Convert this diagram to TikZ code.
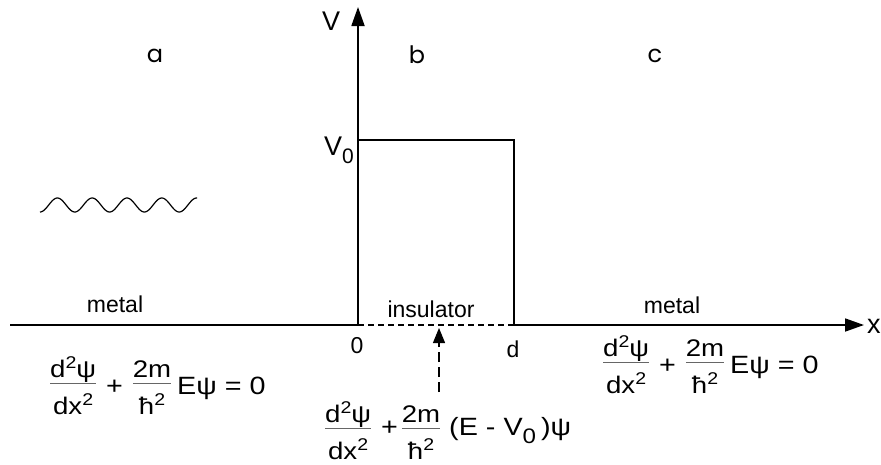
\documentclass[tikz,border=0pt]{standalone}
\usepackage{fontspec}
\setmainfont{Liberation Sans}
\newfontfamily\geo{Poppins}
\newfontfamily\eqfam[FakeStretch=1.15]{Liberation Sans}
\usetikzlibrary{arrows.meta}
\newcommand{\eqf}{\eqfam\fontsize{25}{30}\selectfont}
\newcommand{\sq}{\raisebox{9pt}{\fontsize{17}{17}\selectfont 2}}
\newcommand{\subz}{\raisebox{-8pt}{\fontsize{21}{21}\selectfont 0}}
\newdimen\frw
\newbox\frnum
\newbox\frden
\newcommand{\myfr}[3][10pt]{%
  \begingroup
  \setbox\frnum=\hbox{\fontsize{24}{28}\selectfont #2}%
  \setbox\frden=\hbox{\fontsize{24}{28}\selectfont #3}%
  \frw=\wd\frnum \ifdim\wd\frden>\frw \frw=\wd\frden \fi
  \dp\frnum=0pt \ht\frden=0pt \dp\frden=0pt
  \raise#1\hbox{\vtop{\offinterlineskip\vbox{\offinterlineskip\hbox to\frw{\hss\box\frnum\hss}\kern5pt
    \hbox{\color{black!60}\vrule width\frw height 1.1pt depth 0pt}}%
    \kern30pt\hbox to\frw{\hss\box\frden\hss}}}%
  \endgroup}
\tikzset{
  axisline/.style={line width=1.8pt},
  axisarrow/.style={line width=1.8pt,-{Triangle[length=19pt,width=13pt]}},
  barrier/.style={line width=1.7pt},
  dashseg/.style={line width=1.6pt,dash pattern=on 6pt off 4pt},
  ptr/.style={line width=1.2pt,dash pattern=on 10pt off 5pt,-{Triangle[length=15pt,width=12pt]}},
  wave/.style={line width=1.2pt},
  lab/.style={inner sep=0pt,font=\fontsize{23}{27}\selectfont},
  biglab/.style={inner sep=0pt,font=\fontsize{27}{31}\selectfont},
  reg/.style={inner sep=0pt,font=\geo\fontsize{24}{28}\selectfont},
  eqn/.style={inner sep=0pt,anchor=base west,font=\eqf},
}
\begin{document}
\begin{tikzpicture}[x=1pt,y=-1pt]
\useasboundingbox (0,0) rectangle (881,464);
% coordinates
\coordinate (Xl) at (10,325);
\coordinate (O) at (358,325);
\coordinate (D) at (514,325);
\coordinate (Xr) at (864,325);
\coordinate (Vt) at (358,7);
\coordinate (V0) at (358,140);
\coordinate (Dt) at (514,140);
\coordinate (Pb) at (439,392);
\coordinate (Pt) at (439,328);
% axes
\draw[axisline] (Xl) -- (O);
\draw[dashseg] (O) -- (D);
\draw[axisarrow] (D) -- (Xr);
\draw[axisarrow] (O) -- (Vt);
\draw[barrier] (V0) -- (Dt) -- (D);
\draw[ptr] (Pb) -- (Pt);
% wave
\draw[wave] plot[domain=40:197,samples=200,smooth] (\x,{205+7*cos(10.345*(\x-40))});
% labels
\node[reg,anchor=base] (la) at (155,62) {a};
\node[reg,anchor=base] (lb) at (417,63) {b};
\node[reg,anchor=base] (lc) at (655,62) {c};
\node[biglab,anchor=base west] (lv) at (322,30) {V};
\node[biglab,anchor=base west] (lv0) at (324,155) {V\subz};
\node[inner sep=0pt,font=\fontsize{27}{31}\selectfont,anchor=base west] (lx) at (867,333) {x};
\node[lab,anchor=base] (l0) at (357,353) {0};
\node[lab,anchor=base] (ld) at (513,357) {d};
\node[lab,anchor=base] (m1) at (115,312) {metal};
\node[lab,anchor=base] (ins) at (431,317) {insulator};
\node[lab,anchor=base] (m2) at (672,313) {metal};
% equations
\node[eqn] (eqa) at (50,394) {\myfr{d\sq ψ}{dx\sq}\hspace{10pt}+\hspace{10pt}\myfr{2m}{ħ\sq}\hspace{6pt}Eψ = 0};
\node[eqn] (eqc) at (603,373) {\myfr{d\sq ψ}{dx\sq}\hspace{10pt}+\hspace{10pt}\myfr{2m}{ħ\sq}\hspace{6pt}Eψ = 0};
\node[eqn] (eqb) at (325,435) {\myfr[6pt]{d\sq ψ}{dx\sq}\hspace{10pt}+\hspace{4pt}\myfr[6pt]{2m}{ħ\sq}\hspace{9pt}(E - V\subz\hspace{5pt})ψ};
\end{tikzpicture}
\end{document}
